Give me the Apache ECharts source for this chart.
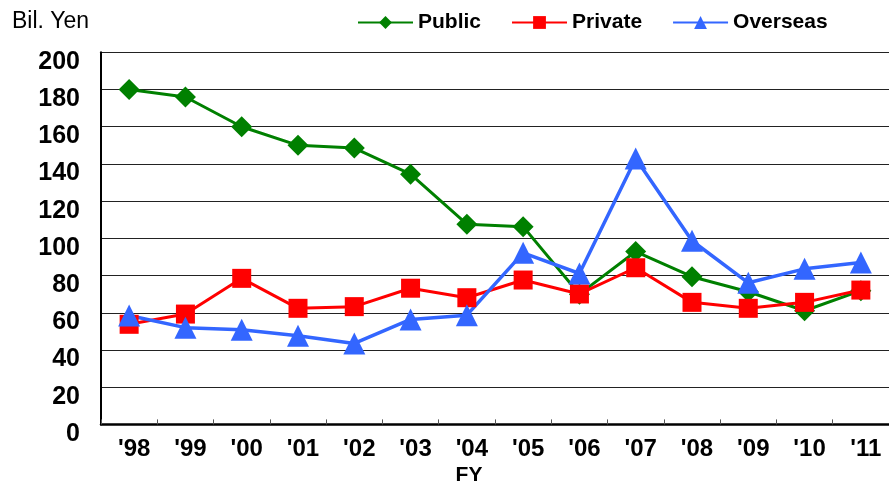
<!DOCTYPE html>
<html>
<head>
<meta charset="utf-8">
<script src="https://cdn.jsdelivr.net/npm/echarts@6/dist/echarts.min.js"></script>
<style>
html,body{margin:0;padding:0;background:#fff;}
#chart{width:889px;height:484px;}
</style>
</head>
<body>
<div id="chart"></div>
<script>
var categories = ["'98","'99","'00","'01","'02","'03","'04","'05","'06","'07","'08","'09","'10","'11"];
var publicVals = [180, 176, 160, 150, 148.5, 134.5, 107.6, 106.3, 70, 92.9, 79.4, 71.3, 61.1, 71.9];
var privateVals = [53.8, 59.3, 78.5, 62.4, 63.3, 73.2, 68.1, 77.6, 70.1, 84.2, 65.6, 62.4, 65.6, 72.2];
var overseasVals = [58.5, 52.0, 50.9, 47.6, 43.5, 56.4, 58.7, 92.2, 81.1, 142.9, 98.7, 76.1, 83.6, 87.0];
var yTicks = {min: 0, max: 200, interval: 20};

var sans = "'Liberation Sans', Arial, sans-serif";

var chart = echarts.init(document.getElementById('chart'), null, {renderer: 'canvas'});
chart.setOption({
  animation: false,
  backgroundColor: '#fff',
  grid: {left: 101, right: -7, top: 52.3, bottom: 59.6, containLabel: false},
  legend: {
    top: 7,
    left: 352,
    itemWidth: 55,
    itemHeight: 16,
    itemGap: 30,
    textStyle: {fontFamily: sans, fontWeight: 'bold', fontSize: 21, color: '#000'},
    data: ['Public', 'Private', 'Overseas']
  },
  xAxis: {
    type: 'category',
    data: categories,
    boundaryGap: true,
    axisLine: {lineStyle: {color: '#000', width: 2.5}},
    axisTick: {show: true, inside: true, length: 5, lineStyle: {color: '#555', width: 1}},
    axisLabel: {fontFamily: sans, fontWeight: 'bold', fontSize: 24, color: '#000', margin: 13, padding: [0, 0, 0, 10]},
    splitLine: {show: false}
  },
  yAxis: {
    type: 'value',
    min: yTicks.min, max: yTicks.max, interval: yTicks.interval,
    axisLine: {show: true, lineStyle: {color: '#000', width: 2}},
    axisTick: {show: false},
    axisLabel: {fontFamily: sans, fontWeight: 'bold', fontSize: 25, color: '#000', margin: 21, verticalAlign: 'top', lineHeight: 19},
    splitLine: {show: true, lineStyle: {color: '#222', width: 1.2}}
  },
  graphic: [
    {type: 'text', left: 12, top: 10, style: {text: 'Bil. Yen', fontFamily: sans, fontSize: 23, fill: '#000'}},
    {type: 'text', x: 469, y: 475, style: {text: 'FY', fontFamily: sans, fontWeight: 'bold', fontSize: 21, fill: '#000', align: 'center', verticalAlign: 'middle'}}
  ],
  series: [
    {name: 'Public', type: 'line', data: publicVals, symbol: 'diamond', symbolSize: 21,
     itemStyle: {color: '#008000'}, lineStyle: {color: '#008000', width: 3}},
    {name: 'Private', type: 'line', data: privateVals, symbol: 'rect', symbolSize: 19,
     itemStyle: {color: '#FF0000'}, lineStyle: {color: '#FF0000', width: 3}},
    {name: 'Overseas', type: 'line', data: overseasVals, symbol: 'triangle', symbolSize: 22,
     itemStyle: {color: '#3366FF'}, lineStyle: {color: '#3366FF', width: 3.5}}
  ]
});
</script>
</body>
</html>
